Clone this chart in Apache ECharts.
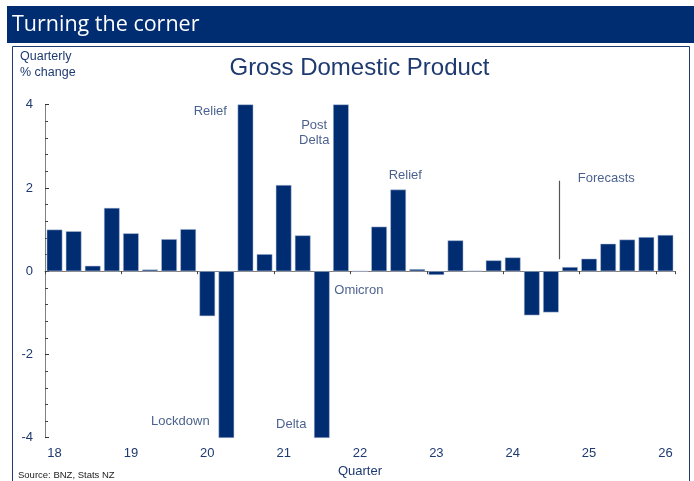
<!DOCTYPE html>
<html><head><meta charset="utf-8">
<script src="https://cdn.jsdelivr.net/npm/echarts@6/dist/echarts.min.js"></script>
<style>html,body{margin:0;padding:0;background:#fff}#c{width:694px;height:481px}</style>
</head><body><div id="c"></div>
<script>
// Quarter-end categories, Mar-2018 .. Mar-2026
const quarters = [
  'Mar-18','Jun-18','Sep-18','Dec-18','Mar-19','Jun-19','Sep-19','Dec-19',
  'Mar-20','Jun-20','Sep-20','Dec-20','Mar-21','Jun-21','Sep-21','Dec-21',
  'Mar-22','Jun-22','Sep-22','Dec-22','Mar-23','Jun-23','Sep-23','Dec-23',
  'Mar-24','Jun-24','Sep-24','Dec-24','Mar-25','Jun-25','Sep-25','Dec-25','Mar-26'
];
// Quarterly % change in GDP (bars beyond +/-4 are clipped by the axis)
const gdpChange = [
  1.00, 0.96, 0.13, 1.52, 0.91, 0.04, 0.77, 1.01,
  -1.08, -11.0, 14.0, 0.41, 2.07, 0.86, -4.3, 4.5,
  0.00, 1.07, 1.96, 0.05, -0.09, 0.74, 0.01, 0.26,
  0.33, -1.06, -0.99, 0.10, 0.30, 0.66, 0.76, 0.82, 0.87
];
const yTicks = [-4, -2, 0, 2, 4];
// Annotations: text, position in quarter-index units, value
const annoText  = ['Relief', 'Post\nDelta', 'Relief', 'Forecasts', 'Lockdown', 'Delta', 'Omicron'];
const annoIndex = [8.16, 13.6, 18.37, 28.9, 6.59, 12.4, 15.94];
const annoValue = [3.85, 3.32, 2.29, 2.23, -3.6, -3.69, -0.46];
// Forecast divider: between Sep-24 and Dec-24
const forecastX = 26.45;
const forecastSpan = [2.17, 0.29];

const NAVY = '#002D72';
const TXT = '#1E3A70';
const GREY = '#808080';
const FONT = 'Liberation Sans, Arial, sans-serif';

const chart = echarts.init(document.getElementById('c'), null, {renderer: 'canvas'});
chart.setOption({
  backgroundColor: '#fff',
  animation: false,
  graphic: [
    {type: 'rect', shape: {x: 7, y: 6, width: 687, height: 37}, style: {fill: NAVY}, silent: true},
    {type: 'text', x: 12, y: 24.5, style: {text: 'Turning the corner', fill: '#fff', font: '21.5px "Open Sans"', textVerticalAlign: 'middle'}},
    {type: 'rect', shape: {x: 12.5, y: 46.5, width: 677, height: 450}, style: {fill: 'none', stroke: '#1F3A6E', lineWidth: 1}, silent: true},
    {type: 'text', x: 359.5, y: 68, style: {text: 'Gross Domestic Product', fill: TXT, font: '24px ' + FONT, textAlign: 'center', textVerticalAlign: 'middle'}},
    {type: 'text', x: 20, y: 57, style: {text: 'Quarterly', fill: TXT, font: '12.5px ' + FONT, textVerticalAlign: 'middle'}},
    {type: 'text', x: 20, y: 73, style: {text: '% change', fill: TXT, font: '12.5px ' + FONT, textVerticalAlign: 'middle'}},
    {type: 'text', x: 18, y: 475, style: {text: 'Source: BNZ, Stats NZ', fill: '#222', font: '9.5px ' + FONT, textVerticalAlign: 'middle'}}
  ],
  grid: {left: 45, right: 19, top: 104.7, bottom: 43.3, containLabel: false, outerBoundsMode: 'none'},
  xAxis: [
    {
      type: 'category', data: quarters, position: 'bottom',
      axisLine: {show: false, onZero: false}, axisTick: {show: false},
      axisLabel: {interval: 3, margin: 9, color: TXT, fontSize: 13, fontFamily: FONT,
        formatter: v => v.slice(-2)},
      name: 'Quarter', nameLocation: 'middle', nameGap: 27,
      nameTextStyle: {color: TXT, fontSize: 13, fontFamily: FONT}
    },
    {
      type: 'category', data: quarters, position: 'bottom',
      axisLine: {show: true, onZero: true, lineStyle: {color: GREY, width: 1}},
      axisTick: {show: true, interval: 3, length: 3, lineStyle: {color: '#444'}},
      axisLabel: {show: false}
    },
    {type: 'value', min: -0.5, max: 32.5, show: false}
  ],
  yAxis: {
    type: 'value', min: yTicks[0], max: yTicks[yTicks.length - 1], interval: 2,
    axisLine: {show: true, onZero: false, lineStyle: {color: GREY}},
    axisTick: {show: true, inside: true, length: 4, lineStyle: {color: '#333'}},
    minorTick: {show: true, splitNumber: 5, length: 3, lineStyle: {color: '#444'}},
    splitLine: {show: false},
    axisLabel: {color: TXT, fontSize: 13, fontFamily: FONT, margin: 12}
  },
  series: [
    {
      type: 'bar', xAxisIndex: 0, data: gdpChange, clip: true,
      barCategoryGap: '18%',
      itemStyle: {color: NAVY, borderColor: '#b8c4dc', borderWidth: 0.5},
      z: 2
    },
    {
      type: 'line', xAxisIndex: 2,
      data: forecastSpan.map(v => [forecastX, v]),
      symbol: 'none', lineStyle: {color: '#555', width: 1.2}, z: 3
    },
    {
      type: 'scatter', xAxisIndex: 2,
      data: annoText.map((t, i) => ({value: [annoIndex[i], annoValue[i]], name: t})),
      symbolSize: 0,
      label: {show: true, position: 'inside', formatter: p => p.name,
        color: TXT, fontSize: 13, fontFamily: FONT, lineHeight: 15, align: 'center'},
      z: 4
    }
  ]
});
</script>
</body></html>
